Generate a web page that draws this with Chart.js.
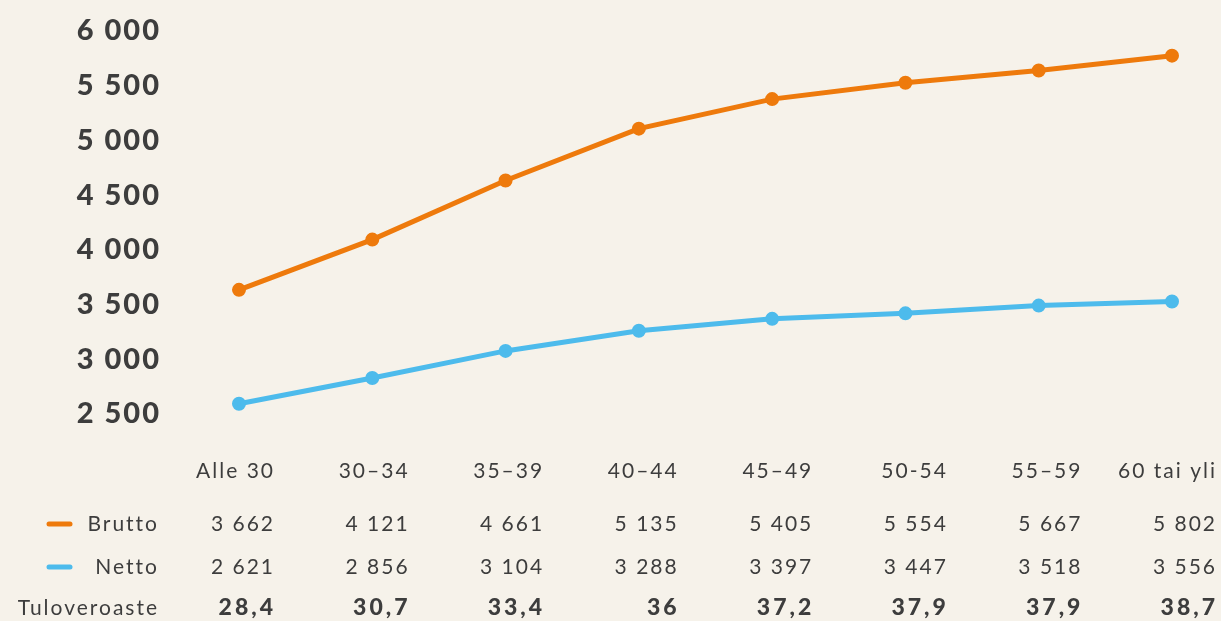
<!DOCTYPE html>
<html>
<head>
<meta charset="utf-8">
<script src="https://cdn.jsdelivr.net/npm/chart.js@4/dist/chart.umd.min.js"></script>
<style>
html,body{margin:0;padding:0;background:#f6f2ea;}
#wrap{width:1221px;height:621px;}
</style>
</head>
<body>
<div id="wrap"><canvas id="c" width="1221" height="621"></canvas></div>
<script>
const categories = ["Alle 30", "30–34", "35–39", "40–44", "45–49", "50-54", "55–59", "60 tai yli"];
const brutto = [3662, 4121, 4661, 5135, 5405, 5554, 5667, 5802];
const netto = [2621, 2856, 3104, 3288, 3397, 3447, 3518, 3556];
const veroaste = ["28,4", "30,7", "33,4", "36", "37,2", "37,9", "37,9", "38,7"];
const seriesNames = ["Brutto", "Netto"];
const rateName = "Tuloveroaste";
const yTicks = [2500, 3000, 3500, 4000, 4500, 5000, 5500, 6000];

const ORANGE = '#ee7a0c';
const BLUE = '#4dbbec';
const TEXT = '#3d3d3d';
const BG = '#f6f2ea';

function fmt(v){ return String(v).replace(/\B(?=(\d{3})+(?!\d))/g, ' '); }

const bgPlugin = {
  id: 'bg',
  beforeDraw(chart){
    const ctx = chart.ctx;
    ctx.save();
    ctx.fillStyle = BG;
    ctx.fillRect(0,0,chart.width,chart.height);
    ctx.restore();
    ctx.letterSpacing = '2px';
  }
};

const tablePlugin = {
  id: 'table',
  afterDraw(chart){
    const ctx = chart.ctx;
    const xs = chart.scales.x;
    ctx.save();
    ctx.textAlign = 'right';
    ctx.textBaseline = 'middle';
    ctx.fillStyle = TEXT;
    const rows = [471, 524, 567, 608];
    const n = categories.length;
    categories.forEach((c,i)=>{
      // column right edge drifts slightly wider toward the right side
      const x = xs.getPixelForValue(i) + 36 + 9 * i / (n - 1);
      ctx.letterSpacing = '2px';
      ctx.font = '400 21px Lato';
      ctx.fillText(c, x, rows[0]);
      ctx.fillText(fmt(brutto[i]), x, rows[1]);
      ctx.fillText(fmt(netto[i]), x, rows[2]);
      ctx.letterSpacing = '3px';
      ctx.font = '900 23px Lato';
      ctx.fillText(veroaste[i], x + 1, rows[3]);
    });
    ctx.letterSpacing = '2px';
    ctx.font = '400 21px Lato';
    ctx.fillText(seriesNames[0], 159, rows[1]);
    ctx.fillText(seriesNames[1], 159, rows[2]);
    ctx.fillText(rateName, 159, rows[3]);
    ctx.lineCap = 'round';
    ctx.lineWidth = 5;
    [[ORANGE, rows[1]], [BLUE, rows[2]]].forEach(([col,y])=>{
      ctx.strokeStyle = col;
      ctx.beginPath();
      ctx.moveTo(49, y);
      ctx.lineTo(70, y);
      ctx.stroke();
    });
    ctx.restore();
  }
};

new Chart(document.getElementById('c'), {
  type: 'line',
  data: {
    labels: categories,
    datasets: [
      { label: seriesNames[0], data: brutto, borderColor: ORANGE, backgroundColor: ORANGE,
        borderWidth: 5, pointRadius: 4.5, pointHoverRadius: 4.5, tension: 0 },
      { label: seriesNames[1], data: netto, borderColor: BLUE, backgroundColor: BLUE,
        borderWidth: 5, pointRadius: 4.5, pointHoverRadius: 4.5, tension: 0 }
    ]
  },
  options: {
    responsive: false,
    animation: false,
    devicePixelRatio: 1,
    layout: { padding: { top: 34, bottom: 204, left: 0, right: 49 } },
    plugins: { legend: { display: false }, tooltip: { enabled: false } },
    scales: {
      x: {
        offset: false,
        grid: { display: false },
        border: { display: false },
        ticks: { display: false },
        afterFit(scale){ scale.height = 0; scale.paddingLeft = 0; scale.paddingRight = 0; }
      },
      y: {
        min: 2500, max: 6000,
        afterFit(scale){ scale.width = 239; scale.paddingTop = 0; scale.paddingBottom = 0; },
        afterBuildTicks(scale){ scale.ticks = yTicks.map(v=>({value:v})); },
        grid: { display: false },
        border: { display: false },
        ticks: {
          padding: 70,
          labelOffset: -3,
          color: TEXT,
          font: { family: 'Lato', size: 29, weight: '900' },
          callback: v => fmt(v)
        }
      }
    }
  },
  plugins: [bgPlugin, tablePlugin]
});
</script>
</body>
</html>
